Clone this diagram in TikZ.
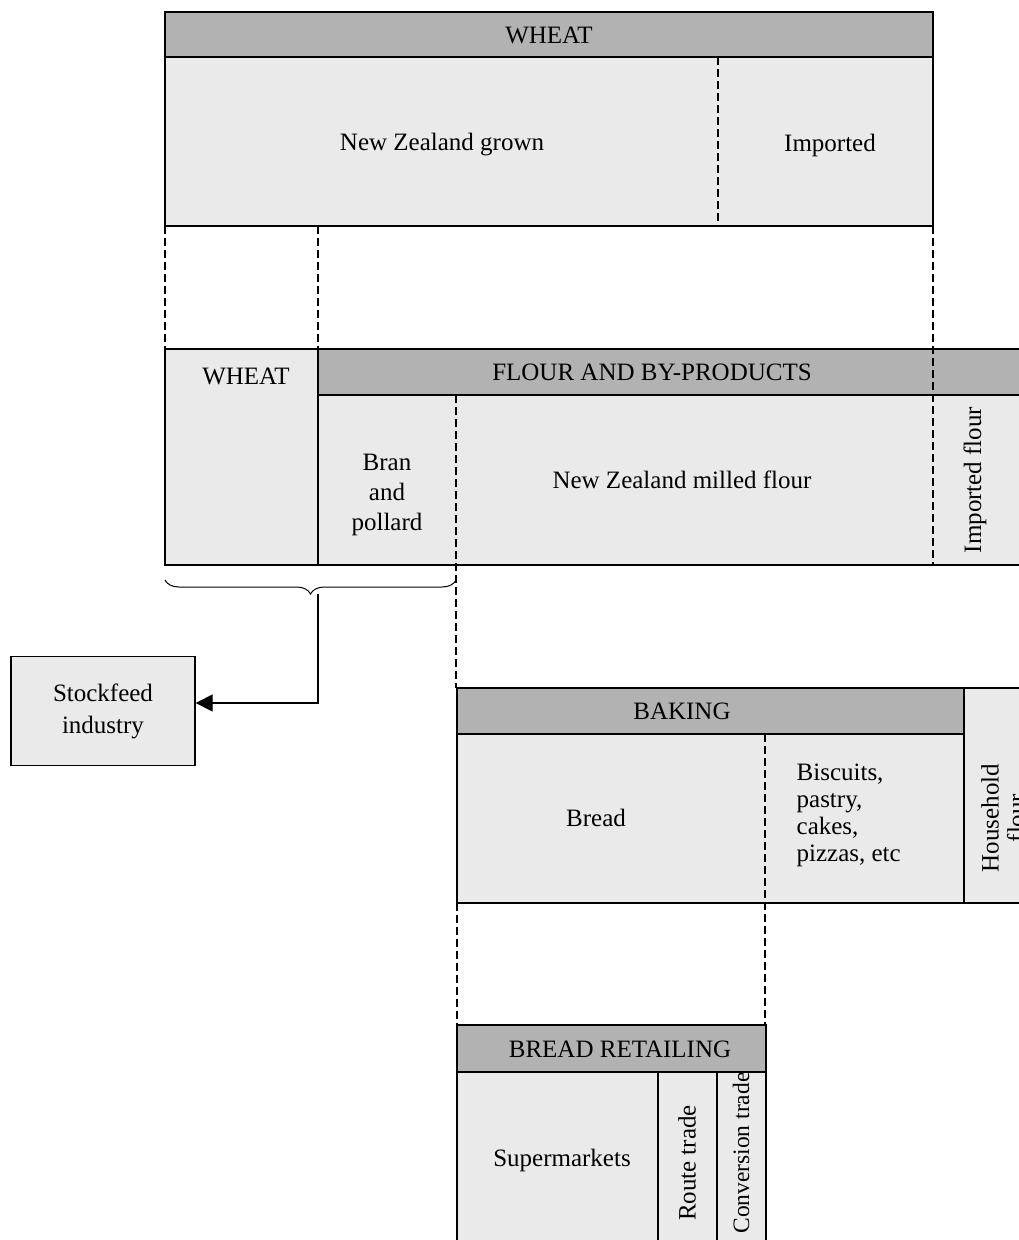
\documentclass[tikz,border=0pt]{standalone}
\usepackage{fontspec}
\setmainfont{Liberation Serif}
\usetikzlibrary{arrows.meta,decorations.pathreplacing}
\definecolor{hdr}{RGB}{178,178,178}
\definecolor{cell}{RGB}{234,234,234}
\begin{document}
\begin{tikzpicture}[x=1pt,y=-1pt, line width=1.3pt,
  txt/.style={font=\fontsize{25}{29}\selectfont, inner sep=0pt, align=center},
  hbox/.style={draw, fill=hdr},
  cbox/.style={draw, fill=cell},
  dsh/.style={line width=1.6pt, dash pattern=on 8pt off 4pt},
]
\useasboundingbox (0,0) rectangle (1019,1240);
% top wheat box
\draw[cbox] (165,57) rectangle (933,226);
\draw[hbox] (165,12) rectangle (933,57);
\draw[dsh] (718,57) -- (718,222);
\node[txt] (w1) at (549,35) {WHEAT};
\node[txt] (nzg) at (442,145) {New Zealand grown};
\node[txt] (imp) at (830,145) {Imported};
% connectors top -> second
\draw[dsh] (165,226) -- (165,349);
\draw[dsh] (318,226) -- (318,349);
% second row
\draw[cbox] (165,349) rectangle (318,565);
\draw[cbox] (318,395) rectangle (1025,565);
\draw[hbox] (318,349) rectangle (1025,395);
\draw[dsh] (933,226) -- (933,565);
\draw[dsh] (456,395) -- (456,688);
\node[txt] (w2) at (246,376) {WHEAT};
\node[txt] (fbp) at (652,372) {FLOUR AND BY-PRODUCTS};
\node[txt, font=\fontsize{25}{30}\selectfont] (bran) at (387,495) {Bran\\and\\pollard};
\node[txt] (nzm) at (682,480) {New Zealand milled flour};
\node[txt, rotate=90] (impf) at (975,480) {Imported flour};
% brace and stockfeed
\draw[line width=1pt, decorate, decoration={brace, mirror, amplitude=14pt}] (165,580) -- (456,580);
\coordinate (bt) at (318,594);
\node[cbox, txt, font=\fontsize{25}{32}\selectfont, minimum width=184pt, minimum height=109pt] (sf) at (103,711) {Stockfeed\\industry};
\draw[-{Triangle[length=17pt,width=17pt]}] (bt) |- ([yshift=8pt]sf.east);
% baking
\draw[cbox] (457,734) rectangle (964,903);
\draw[hbox] (457,688) rectangle (964,734);
\draw[cbox] (964,688) rectangle (1025,903);
\draw[dsh] (765,734) -- (765,1025);
\draw[dsh] (457,903) -- (457,1025);
\node[txt] (bak) at (682,711) {BAKING};
\node[txt] (brd) at (596,818) {Bread};
\node[txt, align=left, anchor=west, font=\fontsize{25}{27}\selectfont] (bis) at (796,815) {Biscuits,\\pastry,\\cakes,\\pizzas, etc};
\node[txt, rotate=90, font=\fontsize{25}{26}\selectfont] (hh) at (1003,818) {Household\\flour};
% bread retailing
\draw[cbox] (457,1072) rectangle (658,1250);
\draw[cbox] (658,1072) rectangle (717,1250);
\draw[cbox] (717,1072) rectangle (766,1250);
\draw[hbox] (457,1025) rectangle (766,1072);
\node[txt] (br) at (620,1049) {BREAD RETAILING};
\node[txt] (sup) at (562,1160) {Supermarkets};
\node[txt, rotate=90] (rt) at (687,1163) {Route trade};
\node[txt, rotate=90, font=\fontsize{23.5}{26}\selectfont] (ct) at (741,1153) {Conversion trade};
\end{tikzpicture}
\end{document}
